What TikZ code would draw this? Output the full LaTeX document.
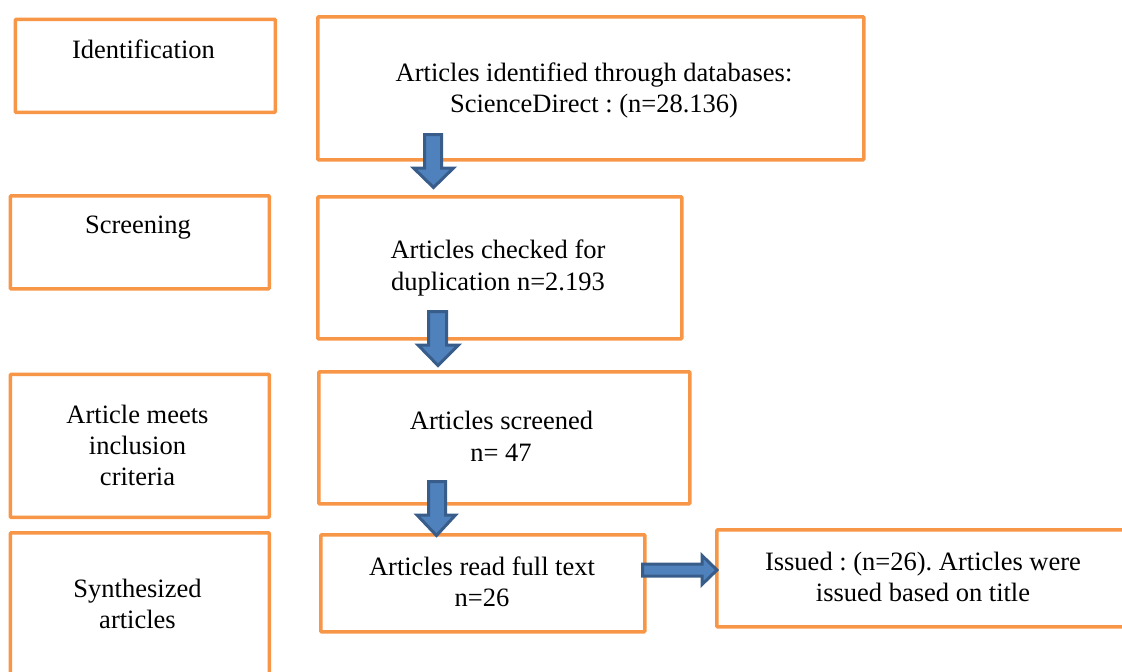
\documentclass[tikz,border=0pt]{standalone}
\usepackage{fontspec}
\setmainfont{Liberation Serif}
\frenchspacing
\definecolor{boxorange}{HTML}{F79646}
\definecolor{arrfill}{HTML}{4F81BD}
\definecolor{arrline}{HTML}{385D8A}
\begin{document}
\begin{tikzpicture}[x=1pt,y=-1pt,
  box/.style={draw=boxorange, line width=3.6pt, inner sep=0pt, anchor=north west, rounded corners=1pt, fill=white},
  txt/.style={anchor=base, inner sep=0pt, font=\fontsize{26.5}{31}\selectfont},
  blockarrow/.style={fill=arrfill, draw=arrline, line width=3pt, miter limit=10}]
\useasboundingbox (0,0) rectangle (1122,672);
\clip (0,0) rectangle (1122,672);
% left column
\node[box, minimum width=260pt, minimum height=93pt] (L1) at (13.5,17.5) {};
\node[box, minimum width=259pt, minimum height=93pt] (L2) at (8.5,194) {};
\node[box, minimum width=259pt, minimum height=143pt] (L3) at (8.5,372.5) {};
\node[box, minimum width=259pt, minimum height=170pt] (L4) at (8.5,531) {};
% right column
\node[box, minimum width=546pt, minimum height=143pt] (R1) at (316,15) {};
\node[box, minimum width=364pt, minimum height=142pt] (R2) at (316,195) {};
\node[box, minimum width=371pt, minimum height=132pt] (R3) at (317,370) {};
\node[box, minimum width=324pt, minimum height=97pt] (R4) at (319,533) {};
\node[box, minimum width=430pt, minimum height=97pt] (R5) at (715,528) {};
% texts
\node[txt] (t1) at (143.5,58) {Identification};
\node[txt] (t2) at (138,233) {Screening};
\node[txt] (t3a) at (137.5,423) {Article meets};
\node[txt] (t3b) at (137.5,454) {inclusion};
\node[txt] (t3c) at (137.5,485) {criteria};
\node[txt] (t4a) at (137.5,597) {Synthesized};
\node[txt] (t4b) at (137.5,628) {articles};
\node[txt] (r1a) at (594,81) {Articles identified through databases:};
\node[txt] (r1b) at (594,112) {ScienceDirect : (n=28.136)};
\node[txt] (r2a) at (498,258) {Articles checked for};
\node[txt] (r2b) at (498,290) {duplication n=2.193};
\node[txt] (r3a) at (501.5,429) {Articles screened};
\node[txt] (r3b) at (501,461) {n= 47};
\node[txt] (r4a) at (482,575) {Articles read full text};
\node[txt] (r4b) at (482,606) {n=26};
\node[txt] (r5a) at (923,570) {Issued : (n=26). Articles were};
\node[txt] (r5b) at (923,601) {issued based on title};
% block arrows
\draw[blockarrow] (424.5,134.5) -- (441.5,134.5) -- (441.5,168) -- (453.5,168) -- (433.5,187.5) -- (413.5,168) -- (424.5,168) -- cycle;
\draw[blockarrow] (428.5,311.5) -- (446.5,311.5) -- (446.5,345) -- (458.5,345) -- (438,365.5) -- (418,345) -- (428.5,345) -- cycle;
\draw[blockarrow] (428.5,481.5) -- (445.5,481.5) -- (445.5,515) -- (455.5,515) -- (436.5,535.5) -- (417,515) -- (428.5,515) -- cycle;
\draw[blockarrow] (642.5,564) -- (702,564) -- (702,555.5) -- (717,570) -- (702,584.5) -- (702,576) -- (642.5,576) -- cycle;
\end{tikzpicture}
\end{document}
